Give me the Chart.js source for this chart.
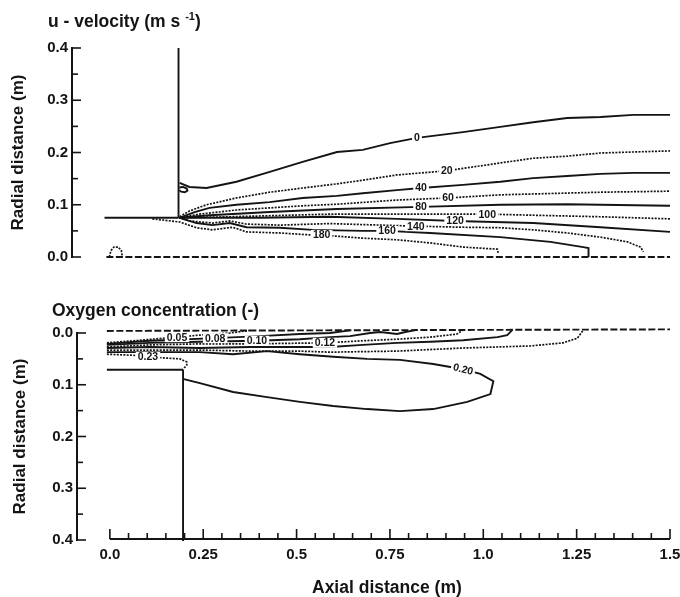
<!DOCTYPE html>
<html>
<head>
<meta charset="utf-8">
<title>u-velocity and oxygen concentration contours</title>
<script src="https://cdn.jsdelivr.net/npm/chart.js@4.4.1/dist/chart.umd.min.js"></script>
<style>
  html, body { margin: 0; padding: 0; background: #fff; }
  #wrap { position: relative; width: 680px; height: 597px; overflow: hidden; font-family: 'Liberation Sans', Arial, sans-serif; }
  canvas { position: absolute; left: 0; }
  .ttl { position: absolute; font-weight: bold; font-size: 17.5px; line-height: 20px; color: #141414; white-space: nowrap; }
  .ttl .sup { position: relative; top: -7px; font-size: 11px; }
</style>
</head>
<body>
<div id="wrap">
  <canvas id="uChart" width="680" height="270" style="top:0"></canvas>
  <canvas id="oxChart" width="680" height="327" style="top:270px"></canvas>
  <div class="ttl" style="left:48px; top:11px">u - velocity (m s <span class="sup">-1</span>)</div>
  <div class="ttl" style="left:52px; top:300px">Oxygen concentration (-)</div>
  <div class="ttl" style="left:312px; top:577px">Axial distance (m)</div>
</div>
<script>
// ---- axis ticks ----
const xTicks = [0, 0.25, 0.5, 0.75, 1.0, 1.25, 1.5];
const xTickLabels = ['0.0', '0.25', '0.5', '0.75', '1.0', '1.25', '1.5'];
const yTicks = [0, 0.1, 0.2, 0.3, 0.4];
const yTickLabels = ['0.0', '0.1', '0.2', '0.3', '0.4'];

// ---- u-velocity contours, [axial m, radial m] ----
const uAxis = [[-0.008, 0], [1.5, 0]];
const uDome = [[0.0, 0.0], [0.004, 0.012], [0.012, 0.019], [0.024, 0.019], [0.032, 0.012], [0.035, 0.0]];
const uLip = [[-0.013, 0.075], [0.185, 0.075]];
const uWall = [[0.185, 0.075], [0.185, 0.4]];
const uLoop = [[0.187, 0.133], [0.197, 0.134], [0.207, 0.131], [0.209, 0.127], [0.202, 0.124], [0.192, 0.125], [0.187, 0.128]];
const u0 = [[0.188, 0.142], [0.214, 0.134], [0.260, 0.132], [0.340, 0.144], [0.429, 0.163], [0.517, 0.182], [0.609, 0.201], [0.678, 0.205], [0.751, 0.218], [0.823, 0.228], [0.946, 0.239], [1.046, 0.249], [1.134, 0.258], [1.225, 0.266], [1.314, 0.268], [1.402, 0.272], [1.5, 0.272]];
const u20 = [[0.188, 0.077], [0.214, 0.088], [0.260, 0.100], [0.340, 0.113], [0.429, 0.124], [0.517, 0.132], [0.609, 0.140], [0.678, 0.147], [0.769, 0.157], [0.903, 0.165], [1.046, 0.180], [1.134, 0.189], [1.225, 0.193], [1.314, 0.199], [1.402, 0.201], [1.5, 0.203]];
const u40 = [[0.188, 0.075], [0.228, 0.086], [0.268, 0.094], [0.340, 0.100], [0.429, 0.105], [0.517, 0.113], [0.609, 0.117], [0.678, 0.122], [0.769, 0.128], [0.834, 0.132], [0.946, 0.138], [1.046, 0.144], [1.134, 0.151], [1.225, 0.155], [1.314, 0.159], [1.402, 0.161], [1.5, 0.161]];
const u60 = [[0.188, 0.075], [0.241, 0.082], [0.340, 0.090], [0.429, 0.094], [0.517, 0.098], [0.609, 0.101], [0.769, 0.109], [0.906, 0.113], [1.046, 0.119], [1.314, 0.124], [1.5, 0.126]];
const u80 = [[0.188, 0.075], [0.268, 0.080], [0.429, 0.086], [0.609, 0.092], [0.834, 0.096], [1.046, 0.100], [1.225, 0.101], [1.314, 0.100], [1.5, 0.098]];
const u100 = [[0.188, 0.075], [0.322, 0.077], [0.590, 0.082], [0.800, 0.082], [1.011, 0.082], [1.314, 0.077], [1.5, 0.073]];
const u120 = [[0.188, 0.075], [0.400, 0.075], [0.590, 0.077], [0.769, 0.073], [0.925, 0.069], [1.134, 0.065], [1.314, 0.057], [1.5, 0.048]];
const u140 = [[0.188, 0.075], [0.214, 0.069], [0.276, 0.065], [0.322, 0.069], [0.367, 0.063], [0.456, 0.061], [0.590, 0.064], [0.820, 0.059], [0.946, 0.057], [1.046, 0.056], [1.134, 0.052], [1.225, 0.046], [1.314, 0.038], [1.386, 0.029], [1.421, 0.019], [1.429, 0.010]];
const u160 = [[0.188, 0.075], [0.233, 0.065], [0.276, 0.061], [0.322, 0.065], [0.367, 0.057], [0.456, 0.056], [0.544, 0.052], [0.678, 0.050], [0.743, 0.050], [0.858, 0.046], [1.046, 0.038], [1.180, 0.029], [1.268, 0.019], [1.282, 0.017], [1.282, 0.0]];
const u180 = [[0.115, 0.073], [0.188, 0.067], [0.233, 0.056], [0.276, 0.052], [0.330, 0.057], [0.367, 0.048], [0.456, 0.046], [0.544, 0.042], [0.568, 0.042], [0.678, 0.036], [0.769, 0.033], [0.858, 0.027], [0.946, 0.019], [1.038, 0.015], [1.040, 0.008]];
const uLabelText = ['0', '20', '40', '60', '80', '100', '120', '140', '160', '180'];
const uLabelPos = [[0.823, 0.228], [0.903, 0.165], [0.834, 0.132], [0.906, 0.113], [0.834, 0.096], [1.011, 0.082], [0.925, 0.069], [0.820, 0.059], [0.743, 0.050], [0.568, 0.042]];

// ---- oxygen concentration contours, [axial m, radial m] ----
const oxAxis = [[-0.008, -0.004], [1.5, -0.007]];
const oxLip = [[-0.008, 0.071], [0.196, 0.071]];
const oxWall = [[0.196, 0.071], [0.196, 0.402]];
const ox05 = [[-0.008, 0.019], [0.080, 0.014], [0.180, 0.008], [0.241, 0.004], [0.322, 0.000], [0.375, -0.005]];
const ox08 = [[-0.008, 0.021], [0.107, 0.015], [0.282, 0.010], [0.402, 0.006], [0.509, 0.002], [0.590, 0.000], [0.643, -0.005]];
const ox10 = [[-0.008, 0.023], [0.107, 0.019], [0.241, 0.017], [0.394, 0.015], [0.509, 0.012], [0.590, 0.008], [0.643, 0.006], [0.697, 0.000], [0.724, -0.002], [0.769, 0.002], [0.791, -0.002], [0.823, -0.006]];
const ox12 = [[-0.008, 0.027], [0.107, 0.023], [0.241, 0.021], [0.375, 0.021], [0.576, 0.019], [0.678, 0.015], [0.769, 0.012], [0.858, 0.008], [0.930, 0.002], [0.946, -0.006]];
const ox15 = [[-0.008, 0.029], [0.107, 0.027], [0.241, 0.029], [0.375, 0.027], [0.509, 0.027], [0.590, 0.027], [0.678, 0.023], [0.769, 0.019], [0.858, 0.017], [0.946, 0.014], [1.038, 0.008], [1.064, 0.004], [1.078, -0.006]];
const ox18 = [[-0.008, 0.033], [0.107, 0.033], [0.241, 0.033], [0.375, 0.035], [0.509, 0.035], [0.590, 0.037], [0.769, 0.035], [0.946, 0.029], [1.126, 0.025], [1.214, 0.019], [1.252, 0.010], [1.268, -0.006]];
const ox20 = [[-0.008, 0.037], [0.107, 0.037], [0.241, 0.037], [0.330, 0.041], [0.421, 0.035], [0.509, 0.041], [0.598, 0.046], [0.689, 0.050], [0.777, 0.052], [0.866, 0.060], [0.946, 0.070], [0.992, 0.079], [1.027, 0.093], [1.019, 0.118], [0.957, 0.133], [0.866, 0.147], [0.777, 0.151], [0.689, 0.147], [0.598, 0.141], [0.509, 0.133], [0.421, 0.124], [0.330, 0.114], [0.241, 0.097], [0.198, 0.089]];
const ox23 = [[-0.008, 0.041], [0.062, 0.043], [0.102, 0.046], [0.142, 0.048], [0.188, 0.050], [0.206, 0.056], [0.206, 0.062], [0.196, 0.070]];
const oxLabelText = ['0.05', '0.08', '0.10', '0.12', '0.23', '0.20'];
const oxLabelPos = [[0.180, 0.008], [0.282, 0.010], [0.394, 0.015], [0.576, 0.019], [0.102, 0.046], [0.946, 0.070]];

const INK = '#141414';
const FONT = "'Liberation Sans', Arial, sans-serif";
Chart.defaults.font.family = FONT;
Chart.defaults.color = INK;

// solid, fine dotted, or long dashes
function contour(points, style) {
    return {
        data: points.map(p => ({ x: p[0], y: p[1] })),
        showLine: true,
        pointRadius: 0,
        borderColor: INK,
        borderWidth: style === 'dot' ? 1.7 : 1.9,
        borderDash: style === 'dot' ? [2, 1.3] : style === 'dash' ? [7, 2.5] : [],
        fill: false,
        tension: 0,
        clip: false
    };
}

// tick marks point into the plot, like the original figure
const innerTicks = {
    id: 'innerTicks',
    afterDraw(chart, args, opts) {
        const ctx = chart.ctx;
        const a = chart.chartArea;
        const xs = chart.scales.x, ys = chart.scales.y;
        ctx.save();
        ctx.strokeStyle = INK;
        ctx.lineWidth = 1.6;
        for (let i = 0; i <= 8; i++) {
            const py = ys.getPixelForValue(i * 0.05);
            const len = i % 2 ? 6 : 9;
            ctx.beginPath();
            ctx.moveTo(a.left, py);
            ctx.lineTo(a.left + len, py);
            ctx.stroke();
        }
        if (opts.xAxis) {
            const base = a.bottom - 1;
            ctx.lineWidth = 2;
            ctx.beginPath();
            ctx.moveTo(xs.getPixelForValue(0), base);
            ctx.lineTo(xs.getPixelForValue(1.5), base);
            ctx.stroke();
            ctx.lineWidth = 1.6;
            for (let i = 0; i <= 30; i++) {
                const px = xs.getPixelForValue(i * 0.05);
                const len = i % 5 ? 6 : 10;
                ctx.beginPath();
                ctx.moveTo(px, base);
                ctx.lineTo(px, base - len);
                ctx.stroke();
            }
        }
        ctx.restore();
    }
};

// level labels sitting on the contour lines
const contourLabels = {
    id: 'contourLabels',
    afterDatasetsDraw(chart, args, opts) {
        const items = opts.items || [];
        const ctx = chart.ctx;
        const xs = chart.scales.x, ys = chart.scales.y;
        ctx.save();
        ctx.font = 'bold 10.5px ' + FONT;
        ctx.textAlign = 'center';
        ctx.textBaseline = 'middle';
        items.forEach(l => {
            const px = xs.getPixelForValue(l.x);
            const py = ys.getPixelForValue(l.y);
            const w = ctx.measureText(l.text).width + 4;
            ctx.save();
            ctx.translate(px, py);
            ctx.rotate((l.angle || 0) * Math.PI / 180);
            ctx.fillStyle = '#fff';
            ctx.fillRect(-w / 2, -5, w, 10);
            ctx.fillStyle = INK;
            ctx.fillText(l.text, 0, 0.5);
            ctx.restore();
        });
        ctx.restore();
    }
};

Chart.register(innerTicks, contourLabels);

function yScale(width, reverse, titlePad) {
    return {
        type: 'linear',
        min: 0,
        max: 0.4,
        reverse,
        afterFit: s => { s.width = width; },
        afterBuildTicks: s => { s.ticks = yTicks.map(v => ({ value: v })); },
        grid: { display: false, drawTicks: false },
        border: { display: true, color: INK, width: 2 },
        ticks: {
            color: INK,
            padding: 4,
            font: { size: 15, weight: 'bold' },
            callback: (v, i) => yTickLabels[i]
        },
        title: {
            display: true,
            text: 'Radial distance (m)',
            color: INK,
            font: { size: 17, weight: 'bold' },
            padding: { top: titlePad, bottom: 0 }
        }
    };
}

const baseOptions = {
    responsive: false,
    animation: false,
    events: []
};

const uLabels = uLabelText.map((t, i) => ({ text: t, x: uLabelPos[i][0], y: uLabelPos[i][1] }));
const oxLabels = oxLabelText.map((t, i) => ({
    text: t, x: oxLabelPos[i][0], y: oxLabelPos[i][1], angle: t === '0.20' ? 14 : 0
}));

new Chart(document.getElementById('uChart'), {
    type: 'scatter',
    data: {
        datasets: [
            contour(uAxis, 'dash'), contour(uDome, 'dot'), contour(uLip), contour(uWall), contour(uLoop),
            contour(u0), contour(u20, 'dot'), contour(u40), contour(u60, 'dot'), contour(u80),
            contour(u100, 'dot'), contour(u120), contour(u140, 'dot'), contour(u160), contour(u180, 'dot')
        ]
    },
    options: {
        ...baseOptions,
        layout: { padding: { left: 0, top: 48, right: 10, bottom: 13 } },
        plugins: {
            legend: { display: false },
            tooltip: { enabled: false },
            contourLabels: { items: uLabels },
            innerTicks: { xAxis: false }
        },
        scales: {
            x: { type: 'linear', display: false, min: -0.1, max: 1.5 },
            y: yScale(72, false, 8)
        }
    }
});

new Chart(document.getElementById('oxChart'), {
    type: 'scatter',
    data: {
        datasets: [
            contour(oxAxis, 'dash'), contour(oxLip), contour(oxWall),
            contour(ox05, 'dot'), contour(ox08), contour(ox10), contour(ox12, 'dot'),
            contour(ox15), contour(ox18, 'dot'), contour(ox20), contour(ox23, 'dot')
        ]
    },
    options: {
        ...baseOptions,
        layout: { padding: { left: 0, top: 63, right: 10, bottom: 0 } },
        plugins: {
            legend: { display: false },
            tooltip: { enabled: false },
            contourLabels: { items: oxLabels },
            innerTicks: { xAxis: true }
        },
        scales: {
            x: {
                type: 'linear',
                min: -0.088,
                max: 1.5,
                // the last label may run off the edge, as in the original
                afterFit: s => { s.height = 57; s.paddingLeft = 0; s.paddingRight = 0; },
                afterBuildTicks: s => { s.ticks = xTicks.map(v => ({ value: v })); },
                grid: { display: false, drawTicks: false },
                border: { display: false },
                ticks: {
                    color: INK,
                    padding: 6,
                    maxRotation: 0,
                    autoSkip: false,
                    font: { size: 15, weight: 'bold' },
                    callback: (v, i) => xTickLabels[i]
                }
            },
            y: yScale(77, true, 10)
        }
    }
});
</script>
</body>
</html>
